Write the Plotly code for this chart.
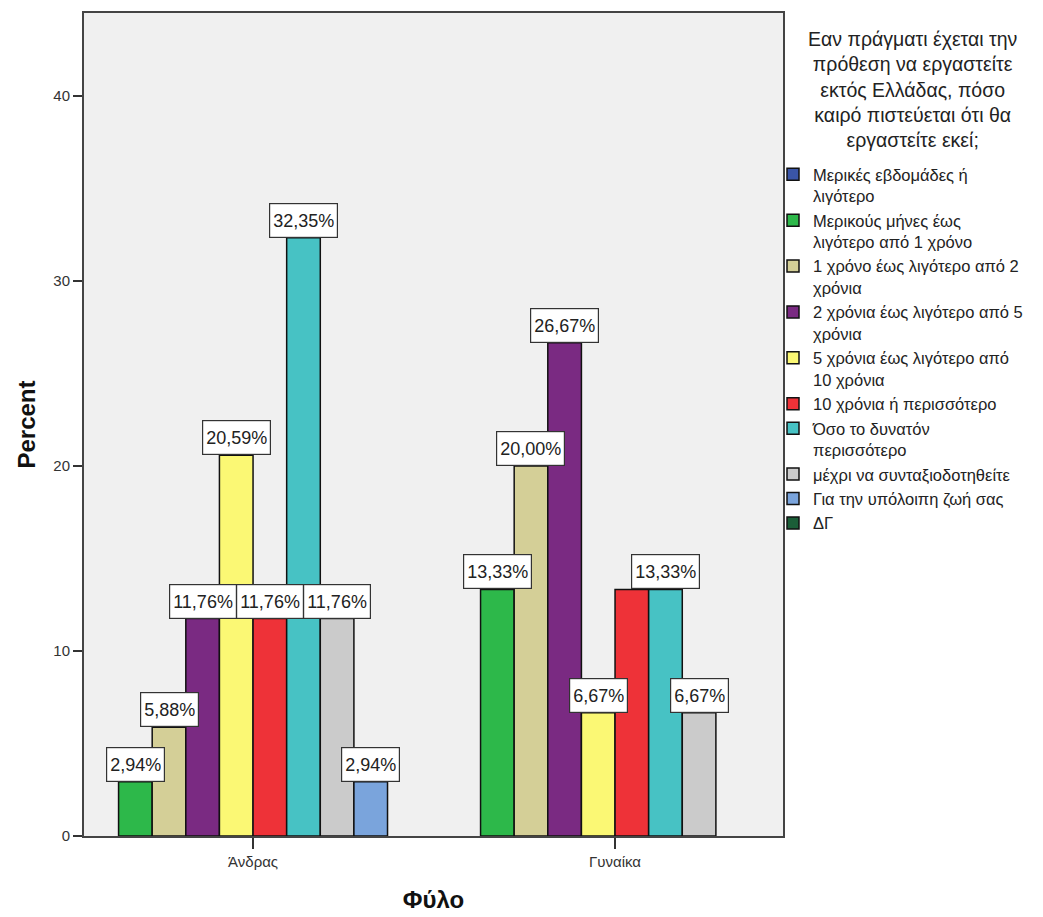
import plotly.graph_objects as go

# ---- data ----
groups = ["Άνδρας", "Γυναίκα"]
categories = [
    "Μερικές εβδομάδες ή<br>λιγότερο",
    "Μερικούς μήνες έως<br>λιγότερο από 1 χρόνο",
    "1 χρόνο έως λιγότερο από 2<br>χρόνια",
    "2 χρόνια έως λιγότερο από 5<br>χρόνια",
    "5 χρόνια έως λιγότερο από<br>10 χρόνια",
    "10 χρόνια ή περισσότερο",
    "Όσο το δυνατόν<br>περισσότερο",
    "μέχρι να συνταξιοδοτηθείτε",
    "Για την υπόλοιπη ζωή σας",
    "ΔΓ",
]
male = [0, 2.94, 5.88, 11.76, 20.59, 11.76, 32.35, 11.76, 2.94, 0]
female = [0, 13.33, 20.00, 26.67, 6.67, 13.33, 13.33, 6.67, 0, 0]
colors = ["#3a55a8", "#2db84a", "#d4cf97", "#7a2a82", "#fbf874",
          "#ee3238", "#47c2c4", "#cbcbcb", "#7aa4dc", "#1b5e38"]
legend_title = ("Εαν πράγματι έχεται την<br>πρόθεση να εργαστείτε<br>"
                "εκτός Ελλάδας, πόσο<br>καιρό πιστεύεται ότι θα<br>εργαστείτε εκεί;")

FONT = "Liberation Sans, Arial, sans-serif"
W, H = 1043, 917
ML, MR, MT, MB = 76, 268, 5, 89
PW, PH = W - ML - MR, H - MT - MB
bargap = 0.257

fig = go.Figure()

# categories with at least one non-zero value occupy a slot in each cluster
shown = [i for i in range(len(categories)) if male[i] > 0 or female[i] > 0]
n_slots = len(shown)
slot_w = (1 - bargap) / n_slots

labels = []  # (x, value)
for i, cat in enumerate(categories):
    vals = [male[i], female[i]]
    yv = [v if v > 0 else None for v in vals]
    on_main = i in shown
    fig.add_trace(go.Bar(
        x=[0, 1], y=yv, name=cat,
        marker=dict(color=colors[i], line=dict(color="#111111", width=1.5)),
        xaxis="x" if on_main else "x2", yaxis="y",
    ))
    if on_main:
        s = shown.index(i)
        for g, v in enumerate(vals):
            if v > 0:
                xpos = g + (s - (n_slots - 1) / 2) * slot_w
                # a later label that collides with an earlier one at the same height replaces it
                labels = [(lx, lv) for (lx, lv) in labels
                          if not (lv == v and abs(lx - xpos) < 1.5 * slot_w)]
                labels.append((xpos, v))

annotations = []
for lx, lv in labels:
    annotations.append(dict(
        x=lx, y=lv, xref="x", yref="y", xanchor="center", yanchor="bottom",
        text=f"{lv:.2f}%".replace(".", ","), showarrow=False,
        font=dict(family=FONT, size=18, color="#222222"),
        bgcolor="white", bordercolor="#333333", borderwidth=1.2, borderpad=3,
        height=27,
    ))

# legend title (centred block above the legend items)
title_cx, title_cy = 904, 82
annotations.append(dict(
    x=(title_cx - ML) / PW, y=(H - MB - title_cy) / PH, xref="paper", yref="paper",
    xanchor="center", yanchor="middle", align="center", text=legend_title,
    showarrow=False, font=dict(family=FONT, size=19.5, color="#222222"),
))

fig.update_layout(
    width=W, height=H,
    margin=dict(l=ML, r=MR, t=MT, b=MB, autoexpand=False),
    paper_bgcolor="white", plot_bgcolor="#f0f0f0",
    barmode="group", bargap=bargap, bargroupgap=0,
    font=dict(family=FONT, size=15, color="#333333"),
    showlegend=True,
    legend=dict(
        xref="container", yref="container", x=765 / W, y=1 - 149 / H,
        xanchor="left", yanchor="top",
        font=dict(family=FONT, size=16.5, color="#222222"),
        valign="top", tracegroupgap=0, itemclick=False,
        bgcolor="rgba(0,0,0,0)", maxheight=880,
    ),
    xaxis=dict(
        range=[-0.467, 1.464], tickvals=[0, 1], ticktext=groups,
        ticks="outside", ticklen=11, tickwidth=1.5, tickcolor="#333333",
        showline=True, linecolor="#444444", linewidth=2, mirror=True,
        showgrid=False, zeroline=False,
        tickfont=dict(family=FONT, size=15, color="#333333"),
        title=dict(text="<b>Φύλο</b>", standoff=22,
                   font=dict(family=FONT, size=24, color="#111111")),
    ),
    xaxis2=dict(overlaying="x", range=[-0.467, 1.464], visible=False),
    yaxis=dict(
        range=[0, 44.5], dtick=10, tick0=0,
        ticks="outside", ticklen=9, tickwidth=1.5, tickcolor="#333333",
        showline=True, linecolor="#444444", linewidth=2, mirror=True,
        showgrid=False, zeroline=False,
        tickfont=dict(family=FONT, size=15, color="#333333"),
        title=dict(text="<b>Percent</b>", standoff=11,
                   font=dict(family=FONT, size=24, color="#111111")),
    ),
    annotations=annotations,
)

fig.write_html("out.html")
